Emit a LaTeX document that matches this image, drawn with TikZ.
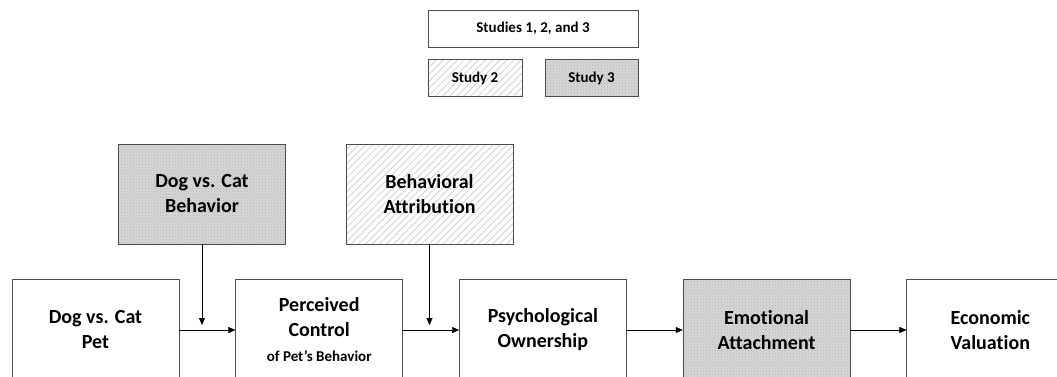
\documentclass[tikz,border=0pt]{standalone}
\usepackage{fontspec}
\setmainfont{Carlito}[Ligatures=NoCommon]
\usepackage{tikz}
\usetikzlibrary{
	arrows.meta,
	positioning,
	patterns,
	patterns.meta,
	}

\begin{document}
\begin{tikzpicture}[x=1pt, y=1pt, node distance={56pt},
	box/.style={draw=black!70, line width=0.7pt, minimum width=167pt, minimum height=102pt, align=center, inner sep=2pt, font=\bfseries\fontsize{20}{25}\selectfont},
	keybox/.style={draw=black!70, line width=0.7pt, minimum height=37pt, align=center, font=\bfseries\fontsize{15}{18}\selectfont},
	studythree/.style={preaction={fill=gray!32}, pattern=crosshatch dots, pattern color=gray!60},
	studytwo/.style={preaction={fill=white}, pattern={Lines[angle=45, distance=5pt, line width=0.7pt]}, pattern color=gray!40},
	]
			\clip (0,0) rectangle (1057,-376);

			% legend
			\node[keybox, minimum width=210pt] (all) at (533,-28.5) {Studies 1, 2, and 3};
			\node[keybox, studytwo, minimum width=94pt] (keytwo) at (475,-78) {Study 2};
			\node[keybox, studythree, minimum width=93pt] (keythree) at (591.5,-78) {Study 3};

			% main path
			\node[box] (dogpet) at (95.5,-330) {Dog vs. Cat\\Pet};
			\node[box, right=of dogpet] (control) {Perceived\\Control\\{\fontsize{15}{18}\selectfont of Pet’s Behavior}};
			\node[box, right=of control] (owner) {Psychological\\Ownership};
			\node[box, studythree, right=of owner] (attach) {Emotional\\Attachment};
			\node[box, right=of attach] (value) {Economic\\Valuation};

			% moderators
			\node[box, studythree, minimum height=100pt] (behave) at (202,-194) {Dog vs. Cat\\Behavior};
			\node[box, studytwo, minimum height=100pt] (attrib) at (429.5,-194) {Behavioral\\Attribution};

			\draw[-{Triangle[length=7pt,width=6pt]}] (dogpet) -- (control) coordinate[pos=0.5] (m1);
			\draw[-{Triangle[length=7pt,width=6pt]}] (control) -- (owner) coordinate[pos=0.5] (m2);
			\draw[-{Triangle[length=7pt,width=6pt]}] (owner) -- (attach);
			\draw[-{Triangle[length=7pt,width=6pt]}] (attach) -- (value);
			\draw[-{Triangle[length=7pt,width=6pt]}] (behave) -- (behave.south |- 0,-325);
			\draw[-{Triangle[length=7pt,width=6pt]}] (attrib) -- (attrib.south |- 0,-325);

		\end{tikzpicture}
\end{document}
